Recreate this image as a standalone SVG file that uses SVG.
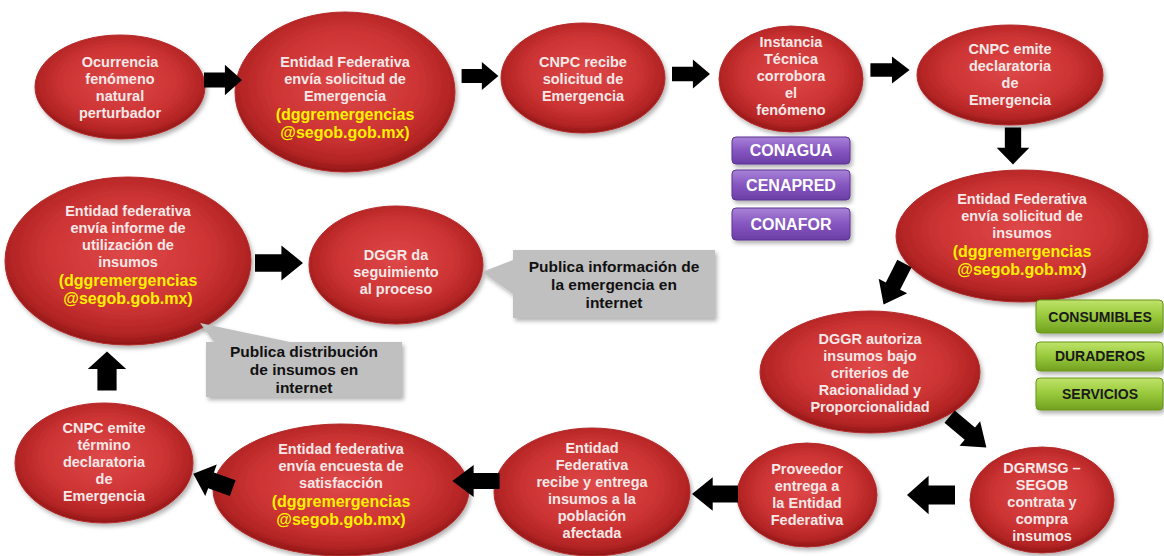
<svg xmlns="http://www.w3.org/2000/svg" xmlns:xlink="http://www.w3.org/1999/xlink" width="1164" height="556" viewBox="0 0 1164 556">
<style>
.el{fill:url(#rg);stroke:#b52a2a;stroke-width:1;filter:url(#sh)}
.t{font-family:"Liberation Sans",Arial,sans-serif;font-weight:bold;font-size:14.5px;fill:#f7e8e8;text-anchor:middle}
.e{font-size:16px;fill:#fff000}
.w{fill:#f7e8e8}
.pb{fill:url(#pg);stroke:#5a3590;stroke-width:1;filter:url(#sh)}
.pt{font-family:"Liberation Sans",Arial,sans-serif;font-weight:bold;font-size:16px;fill:#ffffff;text-anchor:middle}
.gb{fill:url(#gg);stroke:#6a951c;stroke-width:1;filter:url(#sh)}
.gt{font-family:"Liberation Sans",Arial,sans-serif;font-weight:bold;font-size:14px;fill:#1a1a1a;text-anchor:middle}
.cb{fill:#c0c0c0;filter:url(#sh)}
.ct{font-family:"Liberation Sans",Arial,sans-serif;font-weight:bold;font-size:15.5px;fill:#111111;text-anchor:middle}
.ar{fill:#000000}
</style>
<defs>
<radialGradient id="rg" cx="50%" cy="45%" r="55%">
<stop offset="0" stop-color="#de4848"/>
<stop offset="0.6" stop-color="#cd3434"/>
<stop offset="0.88" stop-color="#b32424"/>
<stop offset="1" stop-color="#901616"/>
</radialGradient>
<linearGradient id="pg" x1="0" y1="0" x2="0" y2="1">
<stop offset="0" stop-color="#a882d8"/>
<stop offset="0.5" stop-color="#8656c0"/>
<stop offset="1" stop-color="#6b3ea6"/>
</linearGradient>
<linearGradient id="gg" x1="0" y1="0" x2="0" y2="1">
<stop offset="0" stop-color="#bfe36a"/>
<stop offset="0.5" stop-color="#97c83a"/>
<stop offset="1" stop-color="#72a022"/>
</linearGradient>
<filter id="sh" x="-10%" y="-10%" width="125%" height="130%">
<feDropShadow dx="2" dy="3" stdDeviation="2" flood-color="#000" flood-opacity="0.3"/>
</filter>
<path id="arr" d="M-20,-8 H2 V-16 L20,0 L2,16 V8 H-20 Z"/>
</defs>
<rect width="1164" height="556" fill="#ffffff"/>

<g id="n1"><ellipse class="el" cx="120" cy="87" rx="85" ry="52"/>
<text class="t"><tspan x="120" y="67">Ocurrencia</tspan><tspan x="120" y="84">fenómeno</tspan><tspan x="120" y="101">natural</tspan><tspan x="120" y="118">perturbador</tspan></text></g>

<g id="n2"><ellipse class="el" cx="345" cy="92" rx="110" ry="80"/>
<text class="t"><tspan x="345" y="67">Entidad Federativa</tspan><tspan x="345" y="84">envía solicitud de</tspan><tspan x="345" y="101">Emergencia</tspan><tspan class="e" x="345" y="120">(dggremergencias</tspan><tspan class="e" x="345" y="138">@segob.gob.mx)</tspan></text></g>

<g id="n3"><ellipse class="el" cx="583" cy="78" rx="82" ry="55"/>
<text class="t"><tspan x="583" y="67">CNPC recibe</tspan><tspan x="583" y="84">solicitud de</tspan><tspan x="583" y="101">Emergencia</tspan></text></g>

<g id="n4"><ellipse class="el" cx="791" cy="79" rx="72" ry="53"/>
<text class="t"><tspan x="791" y="47">Instancia</tspan><tspan x="791" y="64">Técnica</tspan><tspan x="791" y="81">corrobora</tspan><tspan x="791" y="98">el</tspan><tspan x="791" y="115">fenómeno</tspan></text></g>

<g id="n5"><ellipse class="el" cx="1010" cy="75" rx="93" ry="50"/>
<text class="t"><tspan x="1010" y="54">CNPC emite</tspan><tspan x="1010" y="71">declaratoria</tspan><tspan x="1010" y="88">de</tspan><tspan x="1010" y="105">Emergencia</tspan></text></g>

<g id="n6"><ellipse class="el" cx="1022" cy="236" rx="126" ry="66"/>
<text class="t"><tspan x="1022" y="204">Entidad Federativa</tspan><tspan x="1022" y="221">envía solicitud de</tspan><tspan x="1022" y="238">insumos</tspan><tspan class="e" x="1022" y="257">(dggremergencias</tspan><tspan x="1022" y="275"><tspan class="e">@segob.gob.mx</tspan><tspan class="w" font-size="16">)</tspan></tspan></text></g>

<g id="n7"><ellipse class="el" cx="870" cy="372" rx="110" ry="61"/>
<text class="t"><tspan x="870" y="344">DGGR autoriza</tspan><tspan x="870" y="361">insumos bajo</tspan><tspan x="870" y="378">criterios de</tspan><tspan x="870" y="395">Racionalidad y</tspan><tspan x="870" y="412">Proporcionalidad</tspan></text></g>

<g id="n8"><ellipse class="el" cx="1042" cy="500" rx="72" ry="53"/>
<text class="t"><tspan x="1042" y="473">DGRMSG –</tspan><tspan x="1042" y="490">SEGOB</tspan><tspan x="1042" y="507">contrata y</tspan><tspan x="1042" y="524">compra</tspan><tspan x="1042" y="541">insumos</tspan></text></g>

<g id="n9"><ellipse class="el" cx="807" cy="495" rx="70" ry="52"/>
<text class="t"><tspan x="807" y="474">Proveedor</tspan><tspan x="807" y="491">entrega a</tspan><tspan x="807" y="508">la Entidad</tspan><tspan x="807" y="525">Federativa</tspan></text></g>

<g id="n10"><ellipse class="el" cx="592" cy="492" rx="98" ry="64"/>
<text class="t"><tspan x="592" y="453">Entidad</tspan><tspan x="592" y="470">Federativa</tspan><tspan x="592" y="487">recibe y entrega</tspan><tspan x="592" y="504">insumos a la</tspan><tspan x="592" y="521">población</tspan><tspan x="592" y="538">afectada</tspan></text></g>

<g id="n11"><ellipse class="el" cx="341" cy="490" rx="128" ry="66"/>
<text class="t"><tspan x="341" y="454">Entidad federativa</tspan><tspan x="341" y="471">envía encuesta de</tspan><tspan x="341" y="488">satisfacción</tspan><tspan class="e" x="341" y="507">(dggremergencias</tspan><tspan class="e" x="341" y="525">@segob.gob.mx)</tspan></text></g>

<g id="n12"><ellipse class="el" cx="104" cy="463" rx="89" ry="60"/>
<text class="t"><tspan x="104" y="433">CNPC emite</tspan><tspan x="104" y="450">término</tspan><tspan x="104" y="467">declaratoria</tspan><tspan x="104" y="484">de</tspan><tspan x="104" y="501">Emergencia</tspan></text></g>

<g id="n13"><ellipse class="el" cx="128" cy="261" rx="123" ry="84"/>
<text class="t"><tspan x="128" y="216">Entidad federativa</tspan><tspan x="128" y="233">envía informe de</tspan><tspan x="128" y="250">utilización de</tspan><tspan x="128" y="267">insumos</tspan><tspan class="e" x="128" y="286">(dggremergencias</tspan><tspan class="e" x="128" y="304">@segob.gob.mx)</tspan></text></g>

<g id="n14"><ellipse class="el" cx="396" cy="265" rx="87" ry="59"/>
<text class="t"><tspan x="396" y="260">DGGR da</tspan><tspan x="396" y="277">seguimiento</tspan><tspan x="396" y="294">al proceso</tspan></text></g>

<g id="conagua"><rect class="pb" x="732" y="137" width="118" height="27" rx="4"/><text class="pt" x="791" y="156">CONAGUA</text></g>
<g id="cenapred"><rect class="pb" x="732" y="170" width="118" height="30" rx="4"/><text class="pt" x="791" y="191">CENAPRED</text></g>
<g id="conafor"><rect class="pb" x="732" y="208" width="118" height="32" rx="4"/><text class="pt" x="791" y="230">CONAFOR</text></g>

<g id="consumibles"><rect class="gb" x="1036" y="300" width="127" height="33" rx="4"/><text class="gt" x="1100" y="322">CONSUMIBLES</text></g>
<g id="duraderos"><rect class="gb" x="1036" y="342" width="127" height="29" rx="4"/><text class="gt" x="1100" y="361">DURADEROS</text></g>
<g id="servicios"><rect class="gb" x="1036" y="378" width="127" height="32" rx="4"/><text class="gt" x="1100" y="399">SERVICIOS</text></g>

<g id="callout-info"><path class="cb" d="M513,250 H715 V318 H513 V294 L482,272 L513,260 Z"/>
<text class="ct"><tspan x="614" y="272">Publica información de</tspan><tspan x="614" y="290">la emergencia en</tspan><tspan x="614" y="308">internet</tspan></text></g>

<g id="callout-dist"><path class="cb" d="M206,342 V397 H402 V342 H290 L200,323 L214,342 Z"/>
<text class="ct"><tspan x="304" y="357">Publica distribución</tspan><tspan x="304" y="375">de insumos en</tspan><tspan x="304" y="393">internet</tspan></text></g>

<g id="connectors" class="ar">
<use href="#arr" transform="translate(223,80) scale(0.95)"/>
<use href="#arr" transform="translate(480,76) scale(0.92,0.88)"/>
<use href="#arr" transform="translate(691,74) scale(0.95,0.9)"/>
<use href="#arr" transform="translate(890,70) scale(0.98,0.85)"/>
<use href="#arr" transform="translate(1013,146) rotate(90) scale(0.92,1.02)"/>
<use href="#arr" transform="translate(894,284) rotate(117) scale(1.15,1)"/>
<use href="#arr" transform="translate(968,432) rotate(40) scale(1.2,1)"/>
<use href="#arr" transform="translate(931,495) rotate(180) scale(1.2,1.2)"/>
<use href="#arr" transform="translate(715,494) rotate(180) scale(1.15,1.05)"/>
<use href="#arr" transform="translate(476,481) rotate(180) scale(1.18,1)"/>
<use href="#arr" transform="translate(213,481) rotate(200) scale(1.05,1.05)"/>
<use href="#arr" transform="translate(107,371) rotate(-90) scale(0.98,1.2)"/>
<use href="#arr" transform="translate(279,263) scale(1.2,1.1)"/>
</g>
</svg>
